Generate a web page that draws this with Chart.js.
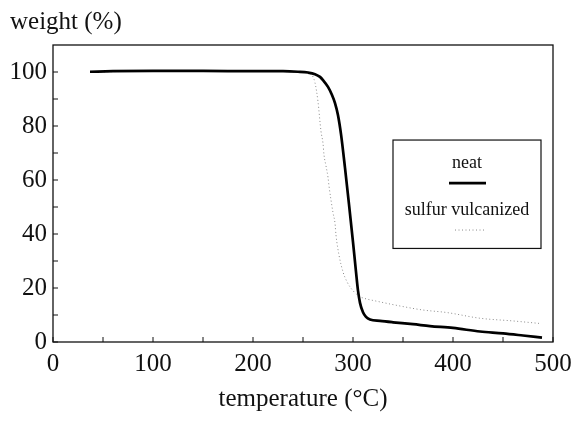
<!DOCTYPE html>
<html>
<head>
<meta charset="utf-8">
<title>TGA</title>
<script src="https://cdn.jsdelivr.net/npm/chart.js@4/dist/chart.umd.min.js"></script>
<style>
    html, body { margin: 0; padding: 0; background: #fff; }
    #tga { display: block; }
</style>
</head>
<body>
<canvas id="tga" width="574" height="421"></canvas>
<script>
// thermogravimetric curves, temperature (°C) vs remaining weight (%)
const neatTemp = [37, 60, 100, 150, 200, 230, 245, 255, 262, 267, 270, 275, 279, 282, 285, 288, 292, 296, 300, 303, 305, 307, 310, 313, 317, 327, 340, 360, 377, 400, 427, 450, 470, 489];
const neatWeight = [100.1, 100.3, 100.4, 100.4, 100.3, 100.3, 100.1, 99.8, 99.2, 98.2, 97, 94.5, 91.5, 88.5, 84, 77, 64.5, 51, 37, 26, 19, 14.5, 11, 9.3, 8.3, 7.8, 7.3, 6.6, 5.9, 5.2, 3.9, 3.2, 2.4, 1.6];

const vulcTemp = [37, 100, 200, 250, 258, 262, 265, 268, 270, 271, 273, 275, 276, 280, 282, 283, 286, 290, 294, 300, 307, 315, 320, 342, 369, 394, 427, 460, 486];
const vulcWeight = [100, 100.3, 100.3, 100, 99.2, 96, 89, 78, 73.6, 69.3, 65.2, 61, 57.8, 47.9, 44, 39.6, 32.2, 26, 22.3, 19, 16.8, 15.8, 15.4, 13.7, 11.9, 10.9, 8.8, 7.8, 6.9];

const seriesNames = ['neat', 'sulfur vulcanized'];
const xTickLabels = [0, 100, 200, 300, 400, 500];
const yTickLabels = [0, 20, 40, 60, 80, 100];

const FONT = "'Liberation Serif', 'Times New Roman', serif";
const INK = '#111';

const toPoints = (xs, ys) => xs.map((x, i) => ({ x: x, y: ys[i] }));

// box round the plot and small inward tick marks
const framePlugin = {
    id: 'frame',
    afterDatasetsDraw (chart) {
        const { ctx, chartArea: a, scales } = chart;
        ctx.save();
        ctx.strokeStyle = INK;
        ctx.lineWidth = 1.3;
        ctx.strokeRect(a.left, a.top, a.right - a.left, a.bottom - a.top);
        ctx.lineWidth = 1;
        ctx.beginPath();
        scales.x.ticks.forEach((t) => {
            const px = scales.x.getPixelForValue(t.value);
            ctx.moveTo(px, a.bottom);
            ctx.lineTo(px, a.bottom - 5);
        });
        scales.y.ticks.forEach((t) => {
            if (t.value > 100) return;
            const py = scales.y.getPixelForValue(t.value);
            ctx.moveTo(a.left, py);
            ctx.lineTo(a.left + 5, py);
        });
        ctx.stroke();
        ctx.restore();
    }
};

// legend box: name above a short sample of each line
const legendBoxPlugin = {
    id: 'legendBox',
    afterDraw (chart) {
        const { ctx, chartArea: a } = chart;
        const w = a.right - a.left;
        const h = a.bottom - a.top;
        const left = a.left + w * 0.68;
        const top = a.top + h * 0.32;
        const boxW = w * 0.296;
        const boxH = h * 0.365;
        const cx = left + boxW / 2;
        ctx.save();
        ctx.fillStyle = '#fff';
        ctx.fillRect(left, top, boxW, boxH);
        ctx.strokeStyle = INK;
        ctx.lineWidth = 1.2;
        ctx.strokeRect(left, top, boxW, boxH);
        ctx.font = `18px ${FONT}`;
        ctx.textAlign = 'center';
        ctx.textBaseline = 'middle';
        ctx.fillStyle = INK;
        chart.data.datasets.forEach((ds, i) => {
            const ty = top + 23 + i * 47;
            ctx.fillText(ds.label, cx, ty);
            const ly = ty + 20;
            ctx.strokeStyle = ds.borderColor;
            ctx.lineWidth = ds.borderWidth;
            ctx.setLineDash(ds.borderDash || []);
            ctx.beginPath();
            ctx.moveTo(cx - 18 + i * 6, ly);
            ctx.lineTo(cx + 19, ly);
            ctx.stroke();
            ctx.setLineDash([]);
        });
        ctx.restore();
    }
};

const chart = new Chart(document.getElementById('tga'), {
    type: 'line',
    data: {
        datasets: [{
            label: seriesNames[0],
            data: toPoints(neatTemp, neatWeight),
            borderColor: '#000',
            borderWidth: 2.7,
            pointRadius: 0,
            cubicInterpolationMode: 'monotone',
            order: 0
        }, {
            label: seriesNames[1],
            data: toPoints(vulcTemp, vulcWeight),
            borderColor: '#8a8a8a',
            borderWidth: 1,
            borderDash: [1, 2.5],
            pointRadius: 0,
            cubicInterpolationMode: 'monotone',
            order: 1
        }]
    },
    options: {
        responsive: false,
        animation: false,
        devicePixelRatio: 1,
        layout: { padding: { left: 10, right: 21, top: 0, bottom: 0 } },
        plugins: {
            legend: { display: false },
            tooltip: { enabled: false },
            title: {
                display: true,
                text: 'weight (%)',
                align: 'start',
                color: INK,
                font: { family: FONT, size: 25, weight: 'normal' },
                padding: { top: 7, bottom: 8 }
            }
        },
        scales: {
            x: {
                type: 'linear',
                min: 0,
                max: 500,
                afterFit: (scale) => {
                    // let the last label hang into the right margin
                    scale.height = 79;
                    scale.paddingLeft = 0;
                    scale.paddingRight = 0;
                },
                grid: { display: false, drawTicks: false },
                border: { display: false },
                ticks: {
                    stepSize: 50,
                    padding: 7,
                    color: INK,
                    font: { family: FONT, size: 25 },
                    maxRotation: 0,
                    autoSkip: false,
                    callback: (v) => xTickLabels.includes(v) ? v : ''
                },
                title: {
                    display: true,
                    text: 'temperature (°C)',
                    color: INK,
                    font: { family: FONT, size: 25 },
                    padding: { top: 4, bottom: 7 }
                }
            },
            y: {
                min: 0,
                max: 110,
                afterFit: (scale) => { scale.width = 43; },
                grid: { display: false, drawTicks: false },
                border: { display: false },
                ticks: {
                    stepSize: 10,
                    padding: 6,
                    color: INK,
                    font: { family: FONT, size: 25 },
                    autoSkip: false,
                    callback: (v) => yTickLabels.includes(v) ? v : ''
                }
            }
        }
    },
    plugins: [framePlugin, legendBoxPlugin]
});
</script>
</body>
</html>
